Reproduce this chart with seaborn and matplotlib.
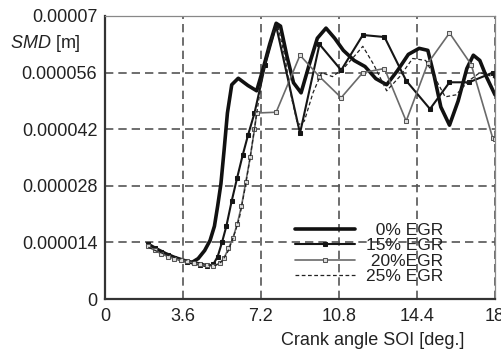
import numpy as np
import pandas as pd
import matplotlib
matplotlib.use("Agg")
import matplotlib.pyplot as plt
import seaborn as sns

# crank angle SOI [deg.] and SMD [micrometres]
x_0 = [2.0, 2.4, 2.8, 3.2, 3.6, 4.0, 4.3, 4.6, 4.85, 5.05, 5.2, 5.35, 5.5, 5.65, 5.85,
       6.15, 6.6, 7.0, 7.3, 7.6, 7.9, 8.1, 8.4, 8.7, 9.05, 9.4, 9.8, 10.2, 10.6, 11.0,
       11.5, 12.0, 12.5, 13.0, 13.5, 14.0, 14.5, 14.9, 15.2, 15.5, 15.9, 16.3, 16.7,
       17.0, 17.3, 17.6, 18.0]
smd_0 = [13.5, 12.3, 11.2, 10.3, 9.6, 9.0, 10.0, 12.0, 14.5, 18.0, 23.0, 28.5, 37.0,
         46.0, 53.0, 54.6, 52.8, 51.5, 57.0, 63.0, 68.2, 67.5, 60.0, 53.5, 51.0, 57.5,
         64.5, 67.0, 64.5, 61.5, 59.0, 57.5, 54.5, 53.0, 56.5, 60.5, 62.0, 61.5, 55.0,
         47.5, 43.0, 49.0, 57.0, 60.3, 59.0, 55.0, 50.5]

x_15 = [2.0, 2.3, 2.6, 2.9, 3.2, 3.5, 3.8, 4.1, 4.4, 4.7, 5.0, 5.2, 5.4, 5.6, 5.85,
        6.1, 6.35, 6.6, 6.9, 7.4, 7.9, 9.0, 9.9, 10.9, 11.9, 12.9, 13.9, 15.0, 15.9,
        16.8, 17.9, 18.0]
smd_15 = [13.5, 12.5, 11.6, 10.8, 10.2, 9.7, 9.2, 8.8, 8.4, 8.1, 8.6, 10.5, 14.0, 18.0,
          24.3, 30.0, 35.5, 40.5, 46.0, 58.0, 67.5, 41.0, 63.0, 56.6, 65.3, 64.8, 54.0,
          47.0, 53.6, 53.6, 56.0, 55.5]

x_20 = [2.0, 2.3, 2.6, 2.9, 3.2, 3.5, 3.8, 4.1, 4.4, 4.7, 5.0, 5.3, 5.5, 5.7, 5.9,
        6.1, 6.3, 6.5, 6.7, 6.9, 7.0, 7.9, 9.0, 9.9, 10.9, 11.9, 12.9, 13.9, 14.9,
        15.9, 16.9, 17.9, 18.0]
smd_20 = [13.0, 12.0, 11.2, 10.5, 10.0, 9.6, 9.3, 9.0, 8.6, 8.3, 8.2, 8.8, 10.2, 12.5,
          15.0, 18.5, 23.0, 29.0, 35.0, 42.0, 46.0, 46.2, 60.3, 55.0, 49.8, 56.0, 57.0,
          44.0, 58.3, 65.8, 58.0, 39.7, 39.5]

x_25 = [2.0, 2.4, 2.8, 3.2, 3.6, 4.0, 4.4, 4.8, 5.1, 5.4, 5.7, 6.0, 6.2, 6.45, 6.7,
        6.95, 7.2, 7.5, 7.8, 8.0, 8.3, 8.6, 8.9, 9.2, 9.6, 10.0, 10.5, 11.0, 11.5, 11.9,
        12.4, 13.0, 13.6, 14.2, 14.8, 15.3, 15.7, 16.2, 16.8, 17.3, 17.9, 18.0]
smd_25 = [12.8, 11.8, 11.0, 10.3, 9.8, 9.4, 8.9, 8.4, 8.3, 9.3, 12.0, 16.5, 20.0, 27.0,
          35.0, 44.0, 53.0, 61.0, 66.5, 67.0, 60.0, 50.0, 43.0, 44.0, 51.0, 56.0, 55.0,
          57.0, 60.0, 62.5, 58.0, 51.5, 55.0, 59.5, 59.0, 54.0, 50.0, 50.5, 54.0, 56.0,
          55.0, 54.5]

labels = ["  0% EGR", "15% EGR", " 20%EGR", "25% EGR"]
x_ticks = [0, 3.6, 7.2, 10.8, 14.4, 18]
x_tick_labels = ["0", "3.6", "7.2", "10.8", "14.4", "18"]
y_ticks = [0, 0.000014, 0.000028, 0.000042, 0.000056, 0.00007]
y_tick_labels = ["0", "0.000014", "0.000028", "0.000042", "0.000056", "0.00007"]

sns.set_style("white")
plt.rcParams["font.family"] = ["Liberation Sans", "DejaVu Sans"]
plt.rcParams["mathtext.fontset"] = "custom"
plt.rcParams["mathtext.rm"] = "Liberation Sans"
plt.rcParams["mathtext.it"] = "Liberation Sans:italic"

fig = plt.figure(figsize=(5.02, 3.53), dpi=100)
ax = fig.add_axes([105 / 502, 1 - 299 / 353, 390 / 502, 283 / 353])

txt = "#222222"
grid_c = "#555555"

ax.grid(True, color=grid_c, linestyle=(0, (5, 3)), linewidth=1.2)

sns.lineplot(x=x_0, y=np.array(smd_0) * 1e-6, ax=ax, color="#111111", lw=2.6,
             sort=False, label=labels[0])
sns.lineplot(x=x_15, y=np.array(smd_15) * 1e-6, ax=ax, color="#151515", lw=1.5,
             marker="s", markersize=3.2, markerfacecolor="#151515",
             markeredgecolor="#151515", sort=False, label=labels[1])
sns.lineplot(x=x_20, y=np.array(smd_20) * 1e-6, ax=ax, color="#6a6a6a", lw=1.2,
             marker="s", markersize=3.2, markerfacecolor="#dddddd",
             markeredgecolor="#555555", sort=False, label=labels[2])
sns.lineplot(x=x_25, y=np.array(smd_25) * 1e-6, ax=ax, color="#222222", lw=0.9,
             linestyle=(0, (3, 2)), sort=False, label=labels[3])

ax.set_xlim(0, 18)
ax.set_ylim(0, 0.00007)
ax.set_xticks(x_ticks)
ax.set_xticklabels(x_tick_labels)
ax.set_yticks(y_ticks)
ax.set_yticklabels(y_tick_labels)
ax.tick_params(axis="both", direction="inout", length=7, width=1.2, color="#333333",
               labelsize=13, labelcolor=txt)
ax.tick_params(axis="y", pad=2)
ax.tick_params(axis="x", pad=3)

for side in ["left", "bottom"]:
    ax.spines[side].set_color("#333333")
    ax.spines[side].set_linewidth(1.6)
for side in ["top", "right"]:
    ax.spines[side].set_color("#888888")
    ax.spines[side].set_linewidth(0.9)

ax.set_xlabel("Crank angle SOI [deg.]", fontsize=13, color=txt)
ax.xaxis.set_label_coords(0.687, -0.115)
ax.set_ylabel("")
fig.text(10 / 502, 1 - 43 / 353, r"$\mathit{SMD}$ [m]", fontsize=13, color=txt,
         ha="left", va="center")

leg = ax.legend(loc="upper left", bbox_to_anchor=(0.486, 0.268), frameon=False,
                fontsize=12.5, handlelength=3.5, handletextpad=0.6, labelspacing=0.0,
                borderpad=0, borderaxespad=0)
for t in leg.get_texts():
    t.set_color(txt)

fig.savefig("out.png", dpi=100)
